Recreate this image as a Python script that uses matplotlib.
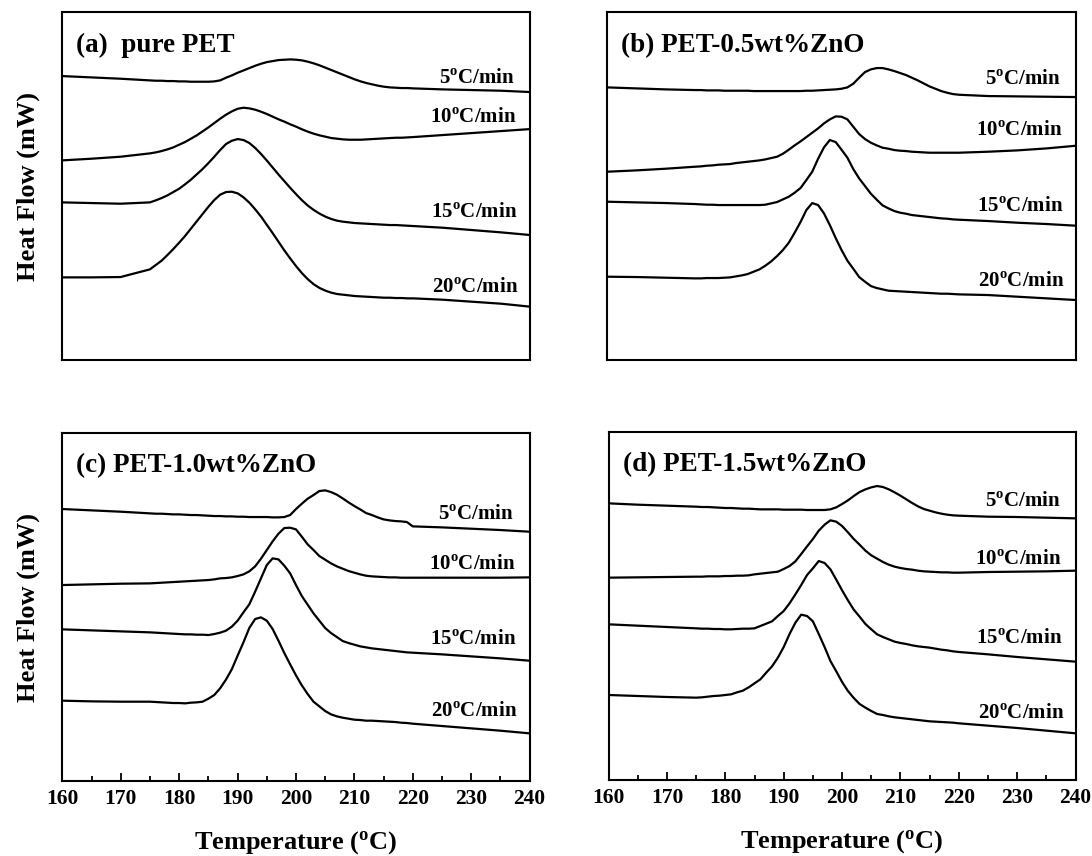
import matplotlib
matplotlib.use("Agg")
import matplotlib.pyplot as plt
from matplotlib.ticker import MultipleLocator

plt.rcParams['font.family'] = ['Liberation Serif', 'DejaVu Serif']
plt.rcParams['font.weight'] = 'bold'
plt.rcParams['mathtext.fontset'] = 'custom'
plt.rcParams['mathtext.rm'] = 'Liberation Serif:bold'
plt.rcParams['mathtext.bf'] = 'Liberation Serif:bold'

# temperature grid (deg C), shared by every curve; 1 degree steps over the peaks
temps = [160, 165, 170,
         175, 176, 177, 178, 179, 180, 181, 182, 183, 184, 185, 186, 187, 188, 189,
         190, 191, 192, 193, 194, 195, 196, 197, 198, 199, 200, 201, 202, 203, 204,
         205, 206, 207, 208, 209, 210, 211, 212, 213, 214, 215, 216, 217, 218, 219, 220,
         225, 230, 235, 240]

# heat flow, arbitrary offset units
pet_5 = [8.52, 8.48, 8.44,
         8.39, 8.38, 8.38, 8.37, 8.37, 8.36, 8.36, 8.35, 8.35, 8.35, 8.35, 8.36, 8.39, 8.47, 8.54,
         8.62, 8.69, 8.76, 8.83, 8.89, 8.94, 8.97, 9.00, 9.01, 9.02, 9.01, 8.99, 8.95, 8.90, 8.84,
         8.77, 8.70, 8.63, 8.56, 8.49, 8.42, 8.36, 8.31, 8.27, 8.23, 8.20, 8.18, 8.17, 8.16, 8.16, 8.15,
         8.12, 8.10, 8.08, 8.04]
pet_10 = [5.99, 6.04, 6.10,
          6.20, 6.23, 6.27, 6.32, 6.38, 6.46, 6.54, 6.64, 6.74, 6.86, 6.98, 7.11, 7.24, 7.36, 7.46,
          7.54, 7.57, 7.55, 7.51, 7.45, 7.38, 7.30, 7.22, 7.15, 7.07, 7.00, 6.92, 6.85, 6.79, 6.74,
          6.70, 6.66, 6.64, 6.62, 6.61, 6.61, 6.61, 6.62, 6.63, 6.64, 6.65, 6.66, 6.67, 6.67, 6.68, 6.69,
          6.75, 6.81, 6.87, 6.93]
pet_15 = [4.73, 4.71, 4.69,
          4.73, 4.79, 4.86, 4.94, 5.04, 5.14, 5.27, 5.41, 5.57, 5.73, 5.91, 6.10, 6.30, 6.48, 6.58,
          6.63, 6.60, 6.51, 6.36, 6.18, 5.98, 5.77, 5.56, 5.36, 5.16, 4.97, 4.79, 4.63, 4.50, 4.39,
          4.30, 4.23, 4.18, 4.15, 4.13, 4.11, 4.10, 4.09, 4.08, 4.07, 4.06, 4.05, 4.05, 4.04, 4.03, 4.02,
          3.97, 3.90, 3.83, 3.75]
pet_20 = [2.48, 2.48, 2.49,
          2.72, 2.85, 2.98, 3.15, 3.33, 3.52, 3.72, 3.94, 4.16, 4.38, 4.60, 4.80, 4.96, 5.04, 5.05,
          5.00, 4.88, 4.72, 4.52, 4.30, 4.05, 3.80, 3.54, 3.28, 3.04, 2.81, 2.60, 2.42, 2.27, 2.16,
          2.08, 2.02, 1.98, 1.96, 1.94, 1.92, 1.91, 1.90, 1.89, 1.88, 1.87, 1.87, 1.86, 1.86, 1.85, 1.85,
          1.81, 1.75, 1.69, 1.60]

zno05_5 = [8.18, 8.15, 8.12,
           8.10, 8.10, 8.09, 8.09, 8.09, 8.08, 8.08, 8.08, 8.08, 8.08, 8.07, 8.07, 8.07, 8.07, 8.07,
           8.07, 8.07, 8.07, 8.07, 8.08, 8.08, 8.09, 8.10, 8.11, 8.12, 8.14, 8.18, 8.29, 8.47, 8.64,
           8.72, 8.76, 8.76, 8.72, 8.67, 8.61, 8.55, 8.47, 8.39, 8.30, 8.21, 8.14, 8.07, 8.02, 7.98, 7.96,
           7.92, 7.91, 7.90, 7.89]
zno05_10 = [5.65, 5.69, 5.74,
            5.80, 5.81, 5.83, 5.84, 5.86, 5.87, 5.88, 5.91, 5.93, 5.95, 5.97, 5.99, 6.02, 6.06, 6.10,
            6.19, 6.31, 6.44, 6.56, 6.69, 6.82, 6.95, 7.10, 7.22, 7.31, 7.30, 7.22, 7.00, 6.78, 6.63,
            6.52, 6.44, 6.37, 6.34, 6.30, 6.28, 6.27, 6.25, 6.24, 6.23, 6.22, 6.22, 6.22, 6.22, 6.22, 6.22,
            6.25, 6.29, 6.35, 6.43]
zno05_15 = [4.75, 4.73, 4.71,
            4.68, 4.67, 4.66, 4.66, 4.65, 4.65, 4.65, 4.65, 4.65, 4.65, 4.65, 4.65, 4.66, 4.70, 4.74,
            4.82, 4.90, 5.02, 5.16, 5.40, 5.65, 6.04, 6.38, 6.60, 6.54, 6.31, 6.07, 5.73, 5.45, 5.22,
            4.99, 4.81, 4.64, 4.55, 4.47, 4.42, 4.39, 4.35, 4.33, 4.31, 4.29, 4.27, 4.25, 4.24, 4.22, 4.21,
            4.17, 4.12, 4.08, 4.03]
zno05_20 = [2.50, 2.49, 2.47,
            2.45, 2.45, 2.46, 2.46, 2.46, 2.47, 2.48, 2.51, 2.54, 2.58, 2.65, 2.72, 2.83, 2.96, 3.12,
            3.30, 3.52, 3.82, 4.14, 4.50, 4.71, 4.65, 4.40, 4.05, 3.66, 3.30, 2.98, 2.74, 2.49, 2.35,
            2.22, 2.16, 2.12, 2.08, 2.07, 2.06, 2.05, 2.04, 2.03, 2.02, 2.01, 2.00, 1.99, 1.99, 1.98, 1.97,
            1.95, 1.90, 1.85, 1.80]

zno10_5 = [8.16, 8.12, 8.08,
           8.03, 8.02, 8.02, 8.01, 8.00, 8.00, 7.99, 7.98, 7.98, 7.97, 7.96, 7.95, 7.95, 7.94, 7.94,
           7.93, 7.93, 7.92, 7.92, 7.92, 7.92, 7.91, 7.91, 7.92, 7.98, 8.16, 8.32, 8.47, 8.58, 8.70,
           8.72, 8.67, 8.59, 8.48, 8.36, 8.25, 8.15, 8.04, 7.98, 7.91, 7.85, 7.82, 7.80, 7.79, 7.77, 7.64,
           7.61, 7.57, 7.53, 7.48]
zno10_10 = [5.88, 5.90, 5.92,
            5.93, 5.94, 5.95, 5.96, 5.97, 5.98, 5.99, 6.00, 6.01, 6.02, 6.03, 6.05, 6.08, 6.09, 6.11,
            6.15, 6.20, 6.29, 6.44, 6.67, 6.93, 7.19, 7.42, 7.59, 7.60, 7.55, 7.33, 7.10, 6.93, 6.75,
            6.64, 6.53, 6.44, 6.37, 6.30, 6.25, 6.20, 6.16, 6.14, 6.13, 6.12, 6.11, 6.11, 6.10, 6.10, 6.10,
            6.10, 6.10, 6.10, 6.11]
zno10_15 = [4.55, 4.52, 4.49,
            4.46, 4.45, 4.44, 4.43, 4.42, 4.41, 4.40, 4.40, 4.39, 4.39, 4.38, 4.41, 4.45, 4.51, 4.63,
            4.81, 5.06, 5.30, 5.68, 6.08, 6.48, 6.68, 6.65, 6.46, 6.23, 5.88, 5.55, 5.29, 5.03, 4.81,
            4.59, 4.44, 4.32, 4.20, 4.14, 4.09, 4.04, 4.01, 3.98, 3.96, 3.94, 3.92, 3.90, 3.88, 3.86, 3.85,
            3.80, 3.74, 3.68, 3.61]
zno10_20 = [2.41, 2.39, 2.38,
            2.38, 2.37, 2.36, 2.35, 2.34, 2.34, 2.33, 2.35, 2.36, 2.38, 2.47, 2.58, 2.78, 3.04, 3.35,
            3.76, 4.16, 4.59, 4.86, 4.91, 4.81, 4.56, 4.21, 3.84, 3.50, 3.17, 2.87, 2.61, 2.38, 2.24,
            2.10, 2.00, 1.94, 1.90, 1.87, 1.84, 1.83, 1.81, 1.81, 1.80, 1.79, 1.78, 1.77, 1.75, 1.74, 1.72,
            1.65, 1.58, 1.51, 1.43]

zno15_5 = [8.30, 8.26, 8.23,
           8.20, 8.19, 8.19, 8.18, 8.17, 8.16, 8.16, 8.15, 8.14, 8.14, 8.13, 8.12, 8.12, 8.12, 8.12,
           8.11, 8.11, 8.11, 8.11, 8.10, 8.10, 8.10, 8.10, 8.12, 8.18, 8.28, 8.39, 8.52, 8.64, 8.72,
           8.78, 8.82, 8.79, 8.72, 8.63, 8.53, 8.42, 8.31, 8.21, 8.13, 8.08, 8.03, 7.99, 7.96, 7.94, 7.93,
           7.90, 7.89, 7.87, 7.85]
zno15_10 = [6.07, 6.08, 6.09,
            6.10, 6.10, 6.11, 6.11, 6.11, 6.12, 6.12, 6.13, 6.13, 6.14, 6.17, 6.19, 6.21, 6.23, 6.25,
            6.33, 6.42, 6.56, 6.78, 7.01, 7.23, 7.48, 7.66, 7.79, 7.75, 7.62, 7.43, 7.23, 7.06, 6.88,
            6.74, 6.64, 6.54, 6.46, 6.40, 6.36, 6.33, 6.31, 6.28, 6.26, 6.25, 6.24, 6.23, 6.23, 6.22, 6.22,
            6.24, 6.25, 6.26, 6.28]
zno15_15 = [4.67, 4.63, 4.59,
            4.55, 4.54, 4.54, 4.53, 4.53, 4.52, 4.52, 4.53, 4.54, 4.54, 4.55, 4.62, 4.69, 4.76, 4.92,
            5.07, 5.30, 5.57, 5.85, 6.15, 6.35, 6.57, 6.51, 6.32, 6.01, 5.69, 5.39, 5.11, 4.90, 4.68,
            4.52, 4.37, 4.29, 4.22, 4.15, 4.11, 4.08, 4.04, 4.01, 3.99, 3.97, 3.94, 3.91, 3.89, 3.86, 3.84,
            3.77, 3.69, 3.62, 3.55]
zno15_20 = [2.55, 2.52, 2.49,
            2.47, 2.48, 2.50, 2.52, 2.53, 2.55, 2.57, 2.63, 2.68, 2.78, 2.90, 3.02, 3.22, 3.41, 3.67,
            3.99, 4.38, 4.72, 4.96, 4.92, 4.76, 4.38, 3.99, 3.57, 3.26, 2.94, 2.67, 2.46, 2.28, 2.17,
            2.07, 1.98, 1.95, 1.91, 1.88, 1.86, 1.84, 1.82, 1.80, 1.78, 1.76, 1.75, 1.74, 1.73, 1.72, 1.70,
            1.63, 1.56, 1.48, 1.40]

rates = ['5', '10', '15', '20']
titles = ['(a)  pure PET', '(b) PET-0.5wt%ZnO', '(c) PET-1.0wt%ZnO', '(d) PET-1.5wt%ZnO']
curves = [
    [pet_5, pet_10, pet_15, pet_20],
    [zno05_5, zno05_10, zno05_15, zno05_20],
    [zno10_5, zno10_10, zno10_15, zno10_20],
    [zno15_5, zno15_10, zno15_15, zno15_20],
]

# layout: axes rectangles and rate-label heights per panel
rects = [
    [0.0568, 0.5794, 0.4290, 0.4065],
    [0.5559, 0.5794, 0.4295, 0.4065],
    [0.0572, 0.0876, 0.4277, 0.4065],
    [0.5573, 0.0888, 0.4277, 0.4065],
]
label_y = [
    [8.42, 7.25, 4.40, 2.15],
    [8.40, 6.87, 4.60, 2.35],
    [7.98, 6.48, 4.23, 2.08],
    [8.35, 6.60, 4.22, 1.98],
]
label_x = [237.4, 237.6, 237.8, 238.0]

fig = plt.figure(figsize=(10.92, 8.56), dpi=100)

for i in range(4):
    ax = fig.add_axes(rects[i])
    for j in range(4):
        ax.plot(temps, curves[i][j], color='black', lw=1.6)
        ax.text(label_x[j], label_y[i][j], rates[j] + r'$^{\rm o}$C/min',
                ha='right', va='center', fontsize=15, fontweight='bold')
    ax.text(0.03, 0.905, titles[i], transform=ax.transAxes, ha='left', va='center',
            fontsize=19.5, fontweight='bold')
    ax.set_xlim(160, 240)
    ax.set_ylim(0, 10.44)
    ax.set_yticks([])
    for s in ax.spines.values():
        s.set_linewidth(1.5)
    if i >= 2:
        ax.xaxis.set_major_locator(MultipleLocator(10))
        ax.xaxis.set_minor_locator(MultipleLocator(5))
        ax.tick_params(axis='x', which='major', direction='in', length=6, width=1.3,
                       labelsize=15.5, pad=6, top=False)
        ax.tick_params(axis='x', which='minor', direction='in', length=3.5, width=1.3, top=False)
        for lab in ax.get_xticklabels():
            lab.set_fontweight('bold')
        ax.set_xlabel(r'Temperature (${\rm ^{o}}$C)', fontsize=19, fontweight='bold', labelpad=14)
    else:
        ax.set_xticks([])
    if i % 2 == 0:
        ax.set_ylabel('Heat Flow (mW)', fontsize=19, fontweight='bold', labelpad=16)

fig.savefig('out.png', dpi=100, facecolor='white')
